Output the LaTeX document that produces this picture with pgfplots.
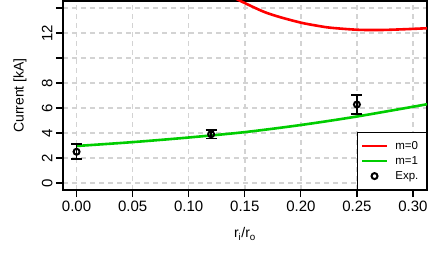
\documentclass[border=0pt]{standalone}
\usepackage{pgfplots}
\pgfplotsset{compat=1.18}
\usepackage{fontspec}
\setmainfont{Liberation Sans}
\definecolor{rgreen}{RGB}{0,205,0}
\definecolor{rgrid}{RGB}{211,211,211}
\pgfplotsset{
    linelegend/.style={legend image code/.code={\draw[##1] (0pt,0pt) -- (25pt,0pt);}},
    marklegend/.style={legend image code/.code={\draw[mark repeat=2,mark phase=2,##1] plot coordinates {(0pt,0pt) (12.5pt,0pt) (25pt,0pt)};}},
}
\begin{document}
\begin{tikzpicture}
\path (-63pt,-64pt) rectangle (373pt,190pt);
\begin{axis}[
    scale only axis,
    width=364pt,
    height=189pt,
    xmin=-0.0121, xmax=0.3125,
    ymin=-0.56, ymax=14.56,
    xtick={0,0.05,0.1,0.15,0.2,0.25,0.3},
    ytick={0,2,4,6,8,10,12,14},
    yticklabels={0,2,4,6,8,,12,},
    xticklabel={\pgfmathprintnumber[fixed,fixed zerofill,precision=2]{\tick}},
    xtick pos=bottom, ytick pos=left,
    tick align=outside,
    major tick length=7pt,
    tick style={black, line width=1.2pt},
    axis line style={line width=1.6pt},
    grid=major,
    major grid style={rgrid, line width=1.5pt, dash pattern=on 5pt off 4pt},
    /pgf/number format/assume math mode=true,
    ticklabel style={font=\fontsize{15}{18}\selectfont},
    yticklabel style={rotate=90, anchor=south},
    xlabel={r\textsubscript{i}/r\textsubscript{o}},
    ylabel={Current [kA]},
    label style={font=\fontsize{14}{17}\selectfont},
    x label style={at={(axis description cs:0.5,-0.233)}, anchor=center},
    y label style={at={(axis description cs:-0.118,0.5)}, anchor=center},
    legend cell align=left,
    legend style={at={(1,0)}, anchor=south east, draw=black, line width=1.3pt,
        font=\fontsize{11.5}{14}\selectfont,
        inner xsep=3pt, inner ysep=8pt, row sep=4.5pt, column sep=7pt,
        nodes={inner sep=0pt, text height=8.5pt, text depth=2pt},
        /tikz/every even column/.append style={text width=28pt}},
    linelegend,
]
% m=0
\addplot[red, line width=2.6pt, smooth] coordinates {
    (0.135, 15.07)
    (0.1476, 14.50)
    (0.1669, 13.70)
    (0.1818, 13.26)
    (0.2004, 12.82)
    (0.2147, 12.58)
    (0.2266, 12.42)
    (0.2504, 12.26)
    (0.2712, 12.24)
    (0.2921, 12.30)
    (0.3125, 12.38)
};
\addlegendentry{m=0}

% m=1
\addplot[rgreen, line width=2.6pt, smooth] coordinates {
    (0.00, 2.96)
    (0.05, 3.27)
    (0.10, 3.64)
    (0.15, 4.07)
    (0.20, 4.64)
    (0.25, 5.32)
    (0.3125, 6.30)
};
\addlegendentry{m=1}

% experiment
\addplot[black, only marks, mark=o, mark size=3pt, line width=2pt, marklegend,
    error bars/.cd, y dir=both, y explicit,
    error bar style={line width=1.6pt},
    error mark options={rotate=90, line width=1.6pt, mark size=5.5pt}]
    table[x=x, y=y, y error=e] {
x     y     e
0.00  2.50  0.60
0.12  3.90  0.34
0.25  6.28  0.74
};
\addlegendentry{Exp.}
\end{axis}
\end{tikzpicture}
\end{document}
